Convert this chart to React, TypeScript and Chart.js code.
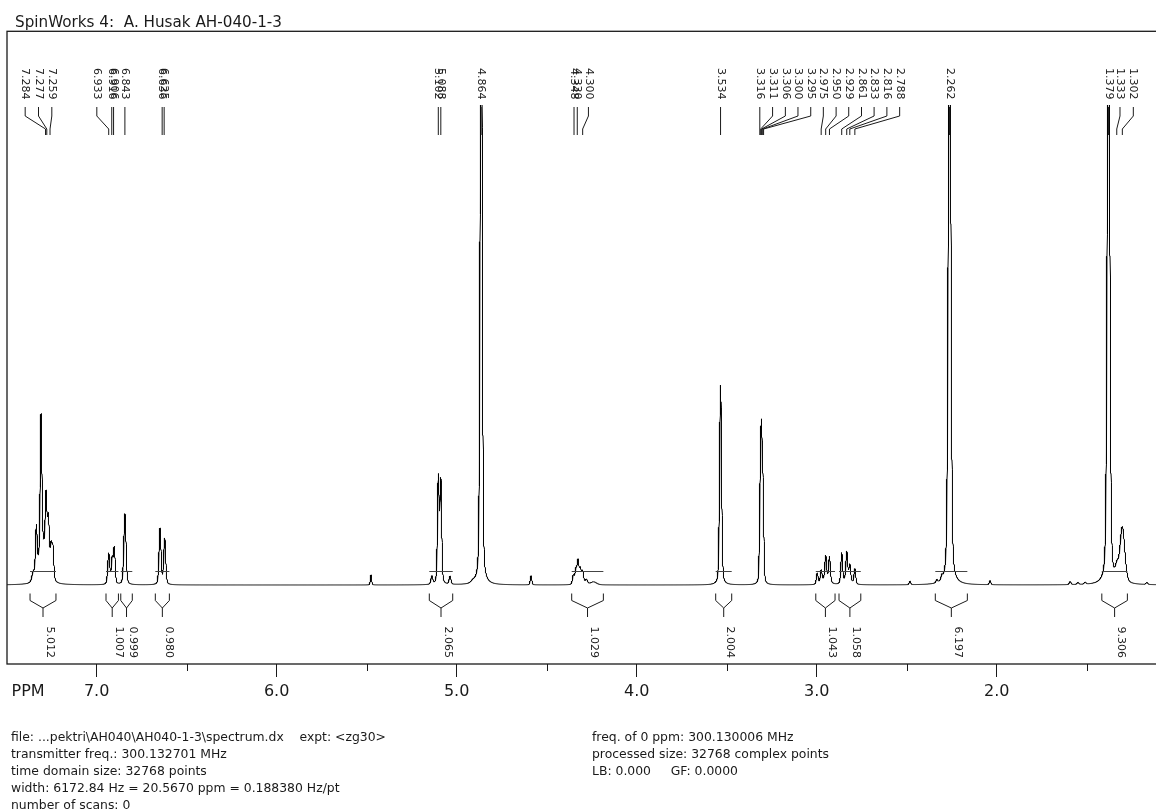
import React, { useEffect, useRef } from 'react';
import { Chart, registerables } from 'chart.js';

Chart.register(...registerables);

const FONT = '"DejaVu Sans", Verdana, sans-serif';
const INK = '#1a1a1a';

// axis range (ppm, reversed)
const X_MIN = 1.115;
const X_MAX = 7.498;
const Y_MIN = -79;
const Y_MAX = 480;

const MAJOR_TICKS = [7, 6, 5, 4, 3, 2];
const TICK_LABELS = ['7.0', '6.0', '5.0', '4.0', '3.0', '2.0'];
const MINOR_TICKS = [6.5, 5.5, 4.5, 3.5, 2.5, 1.5];

// lineshape mix (Lorentzian fraction of a pseudo-Voigt line)
const LORENTZ_FRACTION = 0.3;

// peak list: position (ppm), height, half width (ppm)
const PEAK_PPM = [
  7.353, 7.335, 7.309, 7.281, 7.268, 7.253, 7.243, 7.295,
  6.933, 6.914, 6.902, 6.843, 6.648, 6.622,
  5.476, 5.138, 5.102, 5.088, 5.037, 4.910, 4.864, 4.587,
  4.352, 4.338, 4.326, 4.313, 4.300, 4.280, 4.240,
  3.534, 3.316, 3.311, 3.306, 3.300, 3.295,
  2.997, 2.975, 2.950, 2.929, 2.950, 2.861, 2.833, 2.816, 2.788, 2.830,
  2.482, 2.333, 2.305, 2.262, 2.037, 1.592, 1.549, 1.509,
  1.379, 1.333, 1.302, 1.166,
];
const PEAK_HEIGHT = [
  8, 47, 140, 60, 46, 27, 30, 35,
  31, 25, 36, 71, 56, 46,
  10, 8, 106, 102, 8, 2, 700, 9,
  9, 14, 23, 15, 13, 5, 3,
  200, 50, 88, 110, 80, 37,
  11, 12, 24, 25, 5, 30, 28, 16, 15, 5,
  3.5, 3, 4, 700, 4, 3, 2, 2,
  700, 12, 56, 2,
];
const PEAK_HWHM = [
  0.008, 0.0056, 0.0056, 0.0056, 0.0056, 0.0056, 0.0056, 0.030,
  0.0065, 0.0056, 0.0056, 0.0072, 0.0065, 0.0065,
  0.004, 0.006, 0.0056, 0.0056, 0.006, 0.012, 0.0065, 0.005,
  0.006, 0.006, 0.006, 0.006, 0.006, 0.008, 0.02,
  0.0065, 0.004, 0.004, 0.004, 0.004, 0.004,
  0.0056, 0.0056, 0.0056, 0.0056, 0.025, 0.0056, 0.0056, 0.0056, 0.0056, 0.025,
  0.005, 0.005, 0.005, 0.008, 0.005, 0.006, 0.006, 0.006,
  0.008, 0.01, 0.016, 0.006,
];

// peak labels (text = picked shift) and the ppm where each label column sits
const LABEL_TEXT = [
  '7.284', '7.277', '7.259', '6.933', '6.916', '6.906', '6.843', '6.636', '6.625',
  '5.102', '5.088', '4.864', '4.348', '4.330', '4.300', '3.534',
  '3.316', '3.311', '3.306', '3.300', '3.295', '2.975', '2.950', '2.929',
  '2.861', '2.833', '2.816', '2.788', '2.262', '1.379', '1.333', '1.302',
];
const LABEL_AT = [
  7.397, 7.323, 7.249, 6.999, 6.916, 6.906, 6.843, 6.636, 6.625,
  5.102, 5.088, 4.864, 4.348, 4.330, 4.268, 3.534,
  3.316, 3.245, 3.174, 3.104, 3.033, 2.963, 2.892, 2.822,
  2.751, 2.681, 2.610, 2.539, 2.262, 1.379, 1.315, 1.241,
];

// integral regions
const INT_FROM = [7.370, 6.948, 6.866, 6.674, 5.152, 4.361, 3.561, 3.005, 2.876, 2.341, 1.416];
const INT_TO = [7.226, 6.879, 6.802, 6.596, 5.022, 4.185, 3.472, 2.898, 2.755, 2.163, 1.274];
const INT_VALUE = ['5.012', '1.007', '0.999', '0.980', '2.065', '1.029', '2.004', '1.043', '1.058', '6.197', '9.306'];
const INT_LEVEL = 14;

const TITLE = 'SpinWorks 4:  A. Husak AH-040-1-3';
const INFO_LEFT = [
  'file: ...pektri\\AH040\\AH040-1-3\\spectrum.dx    expt: <zg30>',
  'transmitter freq.: 300.132701 MHz',
  'time domain size: 32768 points',
  'width: 6172.84 Hz = 20.5670 ppm = 0.188380 Hz/pt',
  'number of scans: 0',
];
const INFO_RIGHT = [
  'freq. of 0 ppm: 300.130006 MHz',
  'processed size: 32768 complex points',
  'LB: 0.000     GF: 0.0000',
];

function buildSpectrum() {
  const pts: { x: number; y: number }[] = [];
  const step = 0.0004;
  const n = Math.round((X_MAX - X_MIN) / step);
  const eta = LORENTZ_FRACTION;
  for (let i = 0; i <= n; i++) {
    const x = X_MIN + i * step;
    let y = 0;
    for (let k = 0; k < PEAK_PPM.length; k++) {
      const r = (x - PEAK_PPM[k]) / PEAK_HWHM[k];
      const r2 = r * r;
      const shape = eta / (1 + r2) + (1 - eta) * Math.exp(-Math.LN2 * r2);
      y += PEAK_HEIGHT[k] * shape;
    }
    pts.push({ x, y });
  }
  return pts;
}

const decorPlugin = {
  id: 'decor',
  afterDatasetsDraw(chart: any) {
    const { ctx, chartArea } = chart;
    const xs = chart.scales.x;
    const ys = chart.scales.y;
    const px = (v: number) => xs.getPixelForValue(v);
    const y0 = ys.getPixelForValue(0);
    ctx.save();
    // frame
    ctx.strokeStyle = INK;
    ctx.lineWidth = 1.3;
    ctx.strokeRect(chartArea.left, 31.3, chartArea.right - chartArea.left + 30, chartArea.bottom - 31.3);

    // minor ticks
    ctx.lineWidth = 1;
    ctx.beginPath();
    for (const v of MINOR_TICKS) {
      const x = Math.round(px(v)) + 0.5;
      ctx.moveTo(x, chartArea.bottom);
      ctx.lineTo(x, chartArea.bottom + 7);
    }
    ctx.stroke();

    // PPM label
    ctx.fillStyle = INK;
    ctx.font = `16px ${FONT}`;
    ctx.textAlign = 'left';
    ctx.textBaseline = 'middle';
    ctx.fillText('PPM', 11.5, 692);

    // integrals
    ctx.lineWidth = 1;
    ctx.font = `11px ${FONT}`;
    const yl = ys.getPixelForValue(INT_LEVEL);
    for (let i = 0; i < INT_FROM.length; i++) {
      const xa = px(INT_FROM[i]);
      const xb = px(INT_TO[i]);
      const xm = (xa + xb) / 2;
      ctx.strokeStyle = '#444';
      ctx.beginPath();
      ctx.moveTo(xa, Math.round(yl) + 0.5);
      ctx.lineTo(xb, Math.round(yl) + 0.5);
      ctx.stroke();
      ctx.strokeStyle = INK;
      ctx.beginPath();
      ctx.moveTo(xa, y0 + 8.5);
      ctx.lineTo(xa, y0 + 15.5);
      ctx.lineTo(xm, y0 + 23);
      ctx.lineTo(xb, y0 + 15.5);
      ctx.lineTo(xb, y0 + 8.5);
      ctx.moveTo(xm, y0 + 23);
      ctx.lineTo(xm, y0 + 32);
      ctx.stroke();
      ctx.save();
      ctx.translate(xm + 3.5, y0 + 41.5);
      ctx.rotate(Math.PI / 2);
      ctx.textAlign = 'left';
      ctx.textBaseline = 'alphabetic';
      ctx.fillText(INT_VALUE[i], 0, 0);
      ctx.restore();
    }

    // peak labels
    ctx.strokeStyle = INK;
    for (let i = 0; i < LABEL_TEXT.length; i++) {
      const lx = px(LABEL_AT[i]);
      const pk = px(parseFloat(LABEL_TEXT[i]));
      ctx.save();
      ctx.translate(lx, 68);
      ctx.rotate(Math.PI / 2);
      ctx.textAlign = 'left';
      ctx.textBaseline = 'middle';
      ctx.fillText(LABEL_TEXT[i], 0, 0);
      ctx.restore();
      ctx.beginPath();
      ctx.moveTo(lx, 107);
      ctx.lineTo(lx, 116);
      ctx.lineTo(pk, 129);
      ctx.lineTo(pk, 135);
      ctx.stroke();
    }
    ctx.restore();
  },
};

export default function App() {
  const ref = useRef<HTMLCanvasElement | null>(null);
  useEffect(() => {
    if (!ref.current) return;
    const chart = new Chart(ref.current, {
      type: 'line',
      data: {
        datasets: [
          {
            data: buildSpectrum(),
            borderColor: '#000',
            borderWidth: 1,
            pointRadius: 0,
            tension: 0,
            fill: false,
          },
        ],
      },
      options: {
        animation: false,
        responsive: false,
        parsing: false,
        normalized: true,
        events: [],
        layout: { padding: { left: 7, right: 0, top: 105, bottom: 0 } },
        plugins: { legend: { display: false }, tooltip: { enabled: false } },
        scales: {
          x: {
            type: 'linear',
            reverse: true,
            min: X_MIN,
            max: X_MAX,
            afterBuildTicks: (s: any) => {
              s.ticks = MAJOR_TICKS.map((v) => ({ value: v }));
            },
            afterFit: (s: any) => {
              s.height = 811 - 664;
            },
            grid: {
              display: true,
              drawOnChartArea: false,
              drawTicks: true,
              tickLength: 13,
              tickColor: INK,
              tickWidth: 1,
            },
            border: { display: false },
            ticks: {
              autoSkip: false,
              maxRotation: 0,
              minRotation: 0,
              padding: 5,
              color: INK,
              font: { family: FONT, size: 16 },
              callback: (v: any) => {
                const i = MAJOR_TICKS.indexOf(Number(v));
                return i >= 0 ? TICK_LABELS[i] : '';
              },
            },
          },
          y: { display: false, min: Y_MIN, max: Y_MAX },
        },
      },
      plugins: [decorPlugin],
    } as any);
    return () => chart.destroy();
  }, []);

  const infoStyle: React.CSSProperties = {
    position: 'absolute',
    font: `12.4px ${FONT}`,
    lineHeight: '17.1px',
    whiteSpace: 'pre',
    color: INK,
  };

  return (
    <div style={{ position: 'absolute', left: 0, top: 0, width: 1156, height: 811, overflow: 'hidden', background: '#fff' }}>
      <canvas ref={ref} width={1156} height={811} style={{ position: 'absolute', left: 0, top: 0, width: 1156, height: 811 }} />
      <div style={{ position: 'absolute', left: 15, top: 11.5, font: `15.2px ${FONT}`, lineHeight: '20px', whiteSpace: 'pre', color: INK }}>
        {TITLE}
      </div>
      <div style={{ ...infoStyle, left: 11, top: 727.5 }}>
        {INFO_LEFT.map((t, i) => (
          <div key={i}>{t}</div>
        ))}
      </div>
      <div style={{ ...infoStyle, left: 592, top: 727.5 }}>
        {INFO_RIGHT.map((t, i) => (
          <div key={i}>{t}</div>
        ))}
      </div>
    </div>
  );
}
